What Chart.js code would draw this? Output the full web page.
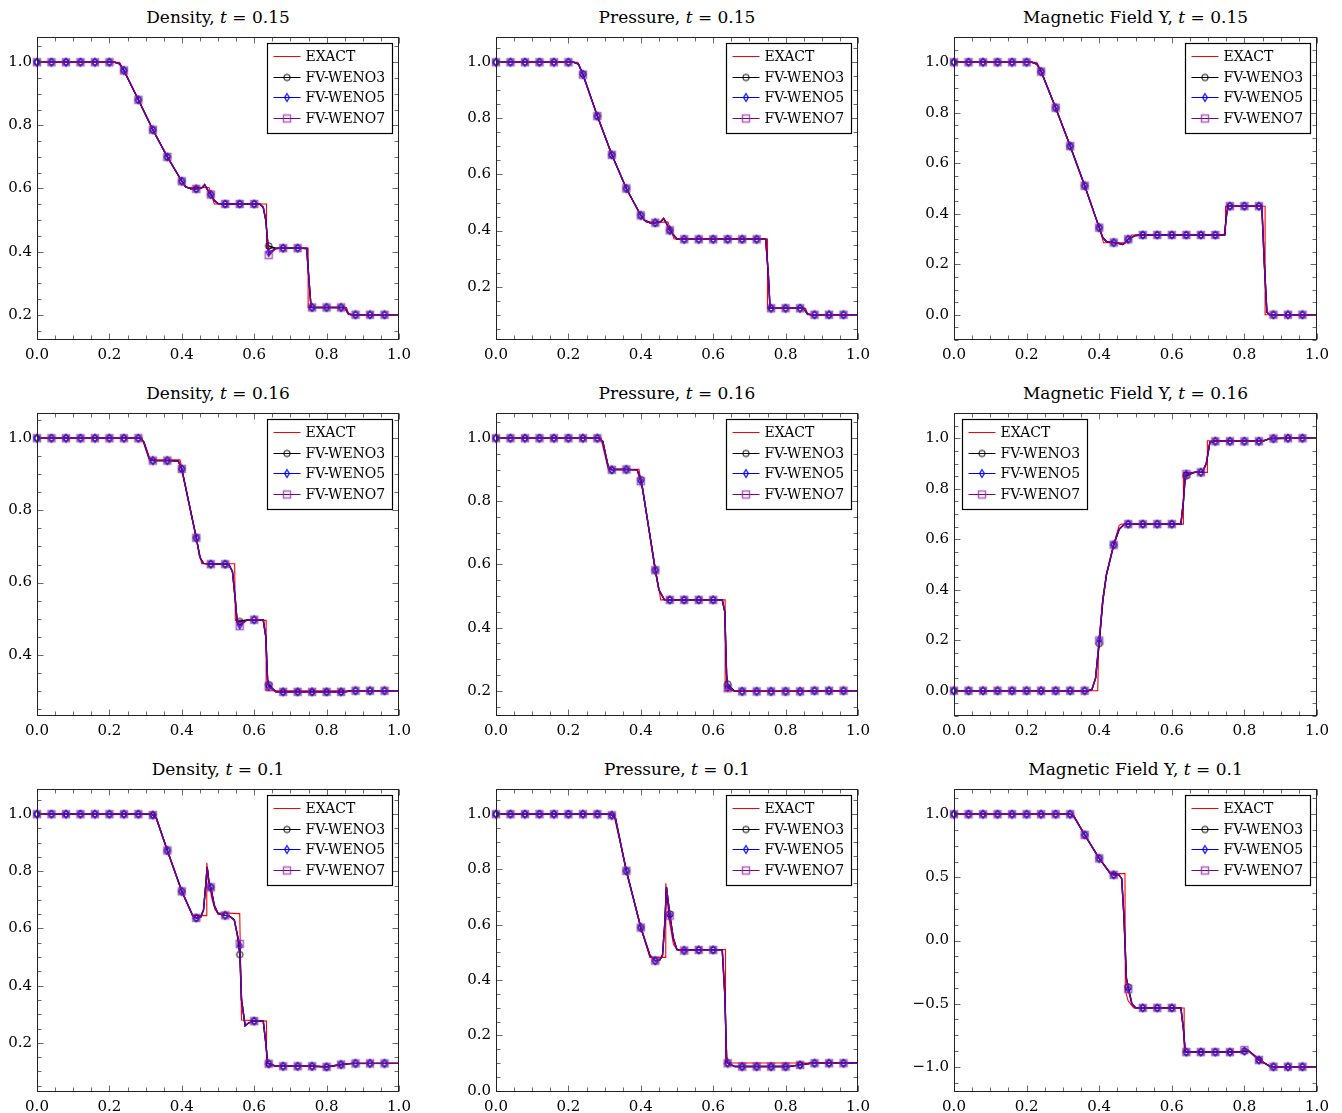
<!DOCTYPE html>
<html>
<head>
<meta charset="utf-8">
<script src="https://cdn.jsdelivr.net/npm/chart.js@4.4.1/dist/chart.umd.min.js"></script>
<style>
  body { margin: 0; background: #fff; width: 1342px; height: 1113px; position: relative; overflow: hidden; font-family: 'DejaVu Serif', serif; }
  .ptitle { position: absolute; text-align: center; font-size: 17px; line-height: 20px; height: 20px; white-space: nowrap; color: #000; }
  canvas { position: absolute; }
</style>
</head>
<body>
<script>
// ---- datos comunes ----
const MARK_X = [0.00, 0.04, 0.08, 0.12, 0.16, 0.20, 0.24, 0.28, 0.32, 0.36, 0.40, 0.44, 0.48,
                0.52, 0.56, 0.60, 0.64, 0.68, 0.72, 0.76, 0.80, 0.84, 0.88, 0.92, 0.96];
const X_TICKS = [0.0, 0.2, 0.4, 0.6, 0.8, 1.0];
const SERIES = ['EXACT', 'FV-WENO3', 'FV-WENO5', 'FV-WENO7'];

// ---- Density, t = 0.15 ----
const dens015YRange = [0.12, 1.08];
const dens015YTicks = [0.2, 0.4, 0.6, 0.8, 1.0];
const dens015Exact = [[0,1],[0.228,1],[0.24,0.975],[0.28,0.882],[0.32,0.787],[0.36,0.701],[0.40,0.624],[0.412,0.603],[0.475,0.603],[0.49,0.551],[0.634,0.551],[0.634,0.411],[0.749,0.411],[0.749,0.223],[0.855,0.223],[0.862,0.2],[1,0.2]];
const dens015Line = [[0.215,1],[0.228,0.995],[0.41,0.606],[0.425,0.599],[0.455,0.602],[0.463,0.612],[0.47,0.598],[0.49,0.562],[0.50,0.552],[0.615,0.551],[0.625,0.54],[0.632,0.50],[0.638,0.42],[0.66,0.41],[0.745,0.41],[0.752,0.30],[0.757,0.225],[0.85,0.223],[0.86,0.203],[0.87,0.2],[1,0.2]];
const dens015W3 = [1,1,1,1,1,1,0.974,0.881,0.786,0.700,0.623,0.599,0.581,0.551,0.551,0.551,0.418,0.411,0.411,0.223,0.223,0.223,0.200,0.200,0.200];
const dens015W5 = [1,1,1,1,1,1,0.974,0.881,0.786,0.700,0.623,0.599,0.581,0.551,0.551,0.551,0.397,0.411,0.411,0.223,0.223,0.223,0.200,0.200,0.200];
const dens015W7 = [1,1,1,1,1,1,0.974,0.881,0.786,0.700,0.623,0.599,0.581,0.551,0.551,0.551,0.389,0.411,0.411,0.223,0.223,0.223,0.200,0.200,0.200];

// ---- Pressure, t = 0.15 ----
const pres015YRange = [0.01, 1.09];
const pres015YTicks = [0.2, 0.4, 0.6, 0.8, 1.0];
const pres015Exact = [[0,1],[0.226,1],[0.24,0.957],[0.28,0.809],[0.32,0.671],[0.36,0.551],[0.40,0.455],[0.415,0.43],[0.475,0.43],[0.492,0.37],[0.75,0.37],[0.75,0.123],[0.855,0.123],[0.862,0.1],[1,0.1]];
const pres015Line = [[0.215,1],[0.228,0.993],[0.41,0.437],[0.425,0.428],[0.455,0.432],[0.463,0.443],[0.47,0.428],[0.49,0.385],[0.50,0.37],[0.745,0.369],[0.752,0.25],[0.757,0.125],[0.85,0.123],[0.86,0.103],[0.87,0.1],[1,0.1]];
const pres015W3 = [1,1,1,1,1,1,0.958,0.808,0.670,0.550,0.454,0.428,0.401,0.369,0.369,0.369,0.369,0.369,0.369,0.123,0.123,0.123,0.100,0.100,0.100];
const pres015W5 = [1,1,1,1,1,1,0.956,0.808,0.670,0.550,0.454,0.428,0.401,0.369,0.369,0.369,0.369,0.369,0.369,0.123,0.123,0.123,0.100,0.100,0.100];
const pres015W7 = [1,1,1,1,1,1,0.956,0.808,0.670,0.550,0.454,0.428,0.401,0.369,0.369,0.369,0.369,0.369,0.369,0.123,0.123,0.123,0.100,0.100,0.100];

// ---- Magnetic Field Y, t = 0.15 ----
const by015YRange = [-0.1, 1.1];
const by015YTicks = [0.0, 0.2, 0.4, 0.6, 0.8, 1.0];
const by015Exact = [[0,1],[0.228,1],[0.24,0.965],[0.28,0.821],[0.32,0.669],[0.36,0.512],[0.40,0.347],[0.412,0.285],[0.47,0.285],[0.49,0.316],[0.748,0.316],[0.748,0.43],[0.857,0.43],[0.857,0],[1,0]];
const by015Line = [[0.215,1],[0.228,0.993],[0.41,0.305],[0.42,0.29],[0.45,0.284],[0.465,0.278],[0.475,0.29],[0.50,0.314],[0.745,0.316],[0.752,0.41],[0.757,0.43],[0.848,0.43],[0.855,0.2],[0.862,0.01],[0.87,0],[1,0]];
const by015W3 = [1,1,1,1,1,1,0.963,0.820,0.668,0.511,0.345,0.286,0.299,0.316,0.316,0.316,0.316,0.316,0.316,0.430,0.430,0.430,0,0,0];
const by015W5 = [1,1,1,1,1,1,0.963,0.820,0.668,0.511,0.345,0.286,0.299,0.316,0.316,0.316,0.316,0.316,0.316,0.430,0.430,0.430,0,0,0];
const by015W7 = [1,1,1,1,1,1,0.963,0.820,0.668,0.511,0.345,0.286,0.299,0.316,0.316,0.316,0.316,0.316,0.316,0.430,0.430,0.430,0,0,0];

// ---- Density, t = 0.16 ----
const dens016YRange = [0.23, 1.07];
const dens016YTicks = [0.4, 0.6, 0.8, 1.0];
const dens016Exact = [[0,1],[0.29,1],[0.31,0.94],[0.395,0.94],[0.455,0.652],[0.546,0.652],[0.548,0.495],[0.633,0.495],[0.633,0.3],[1,0.3]];
const dens016Line = [[0.285,1],[0.295,0.99],[0.31,0.945],[0.33,0.938],[0.39,0.937],[0.405,0.89],[0.45,0.67],[0.46,0.653],[0.53,0.65],[0.54,0.63],[0.548,0.55],[0.553,0.49],[0.58,0.496],[0.625,0.496],[0.632,0.45],[0.637,0.33],[0.66,0.297],[0.85,0.297],[0.87,0.3],[1,0.3]];
const dens016W3 = [1,1,1,1,1,1,1,1,0.938,0.938,0.915,0.724,0.651,0.651,0.492,0.497,0.317,0.297,0.297,0.297,0.297,0.297,0.300,0.300,0.300];
const dens016W5 = [1,1,1,1,1,1,1,1,0.938,0.938,0.915,0.724,0.651,0.651,0.482,0.497,0.312,0.297,0.297,0.297,0.297,0.297,0.300,0.300,0.300];
const dens016W7 = [1,1,1,1,1,1,1,1,0.938,0.938,0.915,0.724,0.651,0.651,0.479,0.497,0.312,0.297,0.297,0.297,0.297,0.297,0.300,0.300,0.300];

// ---- Pressure, t = 0.16 ----
const pres016YRange = [0.12, 1.08];
const pres016YTicks = [0.2, 0.4, 0.6, 0.8, 1.0];
const pres016Exact = [[0,1],[0.29,1],[0.31,0.902],[0.395,0.902],[0.455,0.488],[0.633,0.488],[0.633,0.2],[1,0.2]];
const pres016Line = [[0.285,1],[0.295,0.99],[0.31,0.91],[0.33,0.901],[0.39,0.9],[0.405,0.84],[0.45,0.52],[0.465,0.489],[0.625,0.488],[0.632,0.45],[0.637,0.25],[0.66,0.198],[0.86,0.198],[0.875,0.2],[1,0.2]];
const pres016W3 = [1,1,1,1,1,1,1,1,0.900,0.901,0.869,0.582,0.488,0.488,0.488,0.488,0.221,0.198,0.198,0.198,0.198,0.198,0.200,0.200,0.200];
const pres016W5 = [1,1,1,1,1,1,1,1,0.900,0.901,0.864,0.582,0.488,0.488,0.488,0.488,0.211,0.198,0.198,0.198,0.198,0.198,0.200,0.200,0.200];
const pres016W7 = [1,1,1,1,1,1,1,1,0.900,0.901,0.864,0.582,0.488,0.488,0.488,0.488,0.208,0.198,0.198,0.198,0.198,0.198,0.200,0.200,0.200];

// ---- Magnetic Field Y, t = 0.16 ----
const by016YRange = [-0.1, 1.1];
const by016YTicks = [0.0, 0.2, 0.4, 0.6, 0.8, 1.0];
const by016Exact = [[0,0],[0.396,0],[0.398,0.15],[0.41,0.35],[0.42,0.46],[0.44,0.58],[0.455,0.655],[0.462,0.66],[0.632,0.66],[0.632,0.865],[0.698,0.865],[0.698,0.99],[0.845,0.99],[0.88,1],[1,1]];
const by016Line = [[0.37,0],[0.38,0.005],[0.39,0.05],[0.41,0.36],[0.42,0.46],[0.455,0.64],[0.47,0.66],[0.625,0.66],[0.632,0.75],[0.637,0.85],[0.665,0.866],[0.685,0.868],[0.695,0.9],[0.705,0.985],[0.85,0.988],[0.87,0.999],[1,1]];
const by016W3 = [0,0,0,0,0,0,0,0,0,0,0.187,0.578,0.660,0.660,0.660,0.660,0.851,0.865,0.988,0.988,0.988,0.988,0.999,1,1];
const by016W5 = [0,0,0,0,0,0,0,0,0,0,0.202,0.578,0.660,0.660,0.660,0.660,0.858,0.865,0.988,0.988,0.988,0.988,0.999,1,1];
const by016W7 = [0,0,0,0,0,0,0,0,0,0,0.199,0.578,0.660,0.660,0.660,0.660,0.858,0.865,0.988,0.988,0.988,0.988,0.999,1,1];

// ---- Density, t = 0.1 ----
const dens010YRange = [0.028, 1.088];
const dens010YTicks = [0.2, 0.4, 0.6, 0.8, 1.0];
const dens010Exact = [[0,1],[0.325,1],[0.36,0.875],[0.40,0.73],[0.43,0.645],[0.468,0.645],[0.469,0.83],[0.474,0.78],[0.482,0.71],[0.492,0.665],[0.50,0.655],[0.56,0.652],[0.565,0.28],[0.634,0.276],[0.634,0.12],[0.82,0.118],[0.86,0.127],[1,0.128]];
const dens010Line = [[0.315,1],[0.33,0.985],[0.43,0.645],[0.452,0.64],[0.46,0.665],[0.466,0.75],[0.47,0.815],[0.475,0.76],[0.49,0.68],[0.50,0.652],[0.53,0.645],[0.545,0.63],[0.553,0.58],[0.565,0.35],[0.575,0.26],[0.585,0.27],[0.625,0.276],[0.632,0.2],[0.637,0.13],[0.66,0.118],[0.80,0.116],[0.87,0.128],[1,0.128]];
const dens010W3 = [1,1,1,1,1,1,1,1,0.997,0.873,0.730,0.637,0.744,0.646,0.509,0.276,0.127,0.118,0.118,0.118,0.116,0.124,0.128,0.128,0.128];
const dens010W5 = [1,1,1,1,1,1,1,1,0.997,0.873,0.730,0.637,0.744,0.646,0.540,0.276,0.127,0.118,0.118,0.118,0.116,0.124,0.128,0.128,0.128];
const dens010W7 = [1,1,1,1,1,1,1,1,0.997,0.873,0.730,0.637,0.744,0.646,0.546,0.276,0.127,0.118,0.118,0.118,0.116,0.124,0.128,0.128,0.128];

// ---- Pressure, t = 0.1 ----
const pres010YRange = [-0.005, 1.091];
const pres010YTicks = [0.0, 0.2, 0.4, 0.6, 0.8, 1.0];
const pres010Exact = [[0,1],[0.325,1],[0.36,0.8],[0.40,0.59],[0.425,0.482],[0.468,0.482],[0.469,0.75],[0.478,0.62],[0.49,0.53],[0.50,0.51],[0.634,0.51],[0.634,0.1],[1,0.1]];
const pres010Line = [[0.315,1],[0.33,0.985],[0.425,0.49],[0.452,0.472],[0.46,0.49],[0.466,0.6],[0.471,0.735],[0.476,0.68],[0.49,0.55],[0.50,0.51],[0.625,0.509],[0.632,0.35],[0.637,0.12],[0.66,0.087],[0.81,0.087],[0.87,0.099],[1,0.1]];
const pres010W3 = [1,1,1,1,1,1,1,1,0.996,0.795,0.590,0.470,0.639,0.507,0.509,0.509,0.099,0.087,0.087,0.087,0.087,0.093,0.099,0.099,0.099];
const pres010W5 = [1,1,1,1,1,1,1,1,0.996,0.795,0.590,0.470,0.633,0.507,0.509,0.509,0.099,0.087,0.087,0.087,0.087,0.093,0.099,0.099,0.099];
const pres010W7 = [1,1,1,1,1,1,1,1,0.996,0.795,0.590,0.470,0.633,0.507,0.509,0.509,0.099,0.087,0.087,0.087,0.087,0.093,0.099,0.099,0.099];

// ---- Magnetic Field Y, t = 0.1 ----
const by010YRange = [-1.2, 1.2];
const by010YTicks = [-1.0, -0.5, 0.0, 0.5, 1.0];
const by010Exact = [[0,1],[0.325,1],[0.36,0.84],[0.40,0.65],[0.43,0.53],[0.471,0.53],[0.472,-0.4],[0.48,-0.48],[0.495,-0.535],[0.634,-0.535],[0.634,-0.88],[0.815,-0.88],[0.87,-1],[1,-1]];
const by010Line = [[0.315,1],[0.33,0.985],[0.43,0.535],[0.455,0.518],[0.462,0.49],[0.468,0.2],[0.475,-0.3],[0.49,-0.5],[0.50,-0.533],[0.625,-0.534],[0.632,-0.7],[0.637,-0.88],[0.79,-0.882],[0.81,-0.87],[0.83,-0.92],[0.87,-0.995],[0.88,-1],[1,-1]];
const by010W3 = [1,1,1,1,1,1,1,1,1,0.837,0.650,0.520,-0.368,-0.534,-0.534,-0.534,-0.884,-0.884,-0.884,-0.884,-0.876,-0.947,-1,-1,-1];
const by010W5 = [1,1,1,1,1,1,1,1,1,0.837,0.650,0.520,-0.383,-0.534,-0.534,-0.534,-0.884,-0.884,-0.884,-0.884,-0.876,-0.947,-1,-1,-1];
const by010W7 = [1,1,1,1,1,1,1,1,1,0.837,0.650,0.520,-0.383,-0.534,-0.534,-0.534,-0.884,-0.884,-0.884,-0.884,-0.868,-0.947,-1,-1,-1];

// ---- paneles ----
const COL_LEFT = [37, 496, 954];
const COL_WIDTH = [362, 362, 363];
const ROW_TOP = [37, 413, 789];
const ROW_HEIGHT = 303;

const panels = [
  { name: 'Density', t: '0.15', row: 0, col: 0, range: dens015YRange, ticks: dens015YTicks, exact: dens015Exact, line: dens015Line, w: [dens015W3, dens015W5, dens015W7], legend: 'right' },
  { name: 'Pressure', t: '0.15', row: 0, col: 1, range: pres015YRange, ticks: pres015YTicks, exact: pres015Exact, line: pres015Line, w: [pres015W3, pres015W5, pres015W7], legend: 'right' },
  { name: 'Magnetic Field Y', t: '0.15', row: 0, col: 2, range: by015YRange, ticks: by015YTicks, exact: by015Exact, line: by015Line, w: [by015W3, by015W5, by015W7], legend: 'right' },
  { name: 'Density', t: '0.16', row: 1, col: 0, range: dens016YRange, ticks: dens016YTicks, exact: dens016Exact, line: dens016Line, w: [dens016W3, dens016W5, dens016W7], legend: 'right' },
  { name: 'Pressure', t: '0.16', row: 1, col: 1, range: pres016YRange, ticks: pres016YTicks, exact: pres016Exact, line: pres016Line, w: [pres016W3, pres016W5, pres016W7], legend: 'right' },
  { name: 'Magnetic Field Y', t: '0.16', row: 1, col: 2, range: by016YRange, ticks: by016YTicks, exact: by016Exact, line: by016Line, w: [by016W3, by016W5, by016W7], legend: 'left' },
  { name: 'Density', t: '0.1', row: 2, col: 0, range: dens010YRange, ticks: dens010YTicks, exact: dens010Exact, line: dens010Line, w: [dens010W3, dens010W5, dens010W7], legend: 'right' },
  { name: 'Pressure', t: '0.1', row: 2, col: 1, range: pres010YRange, ticks: pres010YTicks, exact: pres010Exact, line: pres010Line, w: [pres010W3, pres010W5, pres010W7], legend: 'right' },
  { name: 'Magnetic Field Y', t: '0.1', row: 2, col: 2, range: by010YRange, ticks: by010YTicks, exact: by010Exact, line: by010Line, w: [by010W3, by010W5, by010W7], legend: 'right' }
];

// marcadores huecos estilo pgfplots
function crearMarca(tipo) {
  const c = document.createElement('canvas');
  c.width = 12; c.height = 12;
  const g = c.getContext('2d');
  const m = 6;
  if (tipo === 'circle') {
    g.strokeStyle = '#000'; g.lineWidth = 1;
    g.beginPath(); g.arc(m, m, 3.2, 0, Math.PI * 2); g.stroke();
  } else if (tipo === 'diamond') {
    g.strokeStyle = '#0000ff'; g.lineWidth = 1.2;
    g.beginPath(); g.moveTo(m, m - 3.8); g.lineTo(m + 2.4, m); g.lineTo(m, m + 3.8); g.lineTo(m - 2.4, m); g.closePath(); g.stroke();
  } else {
    g.strokeStyle = 'rgba(140,30,160,0.7)'; g.lineWidth = 1.5;
    g.strokeRect(m - 3.5, m - 3.5, 7, 7);
  }
  return c;
}
const MARKS = [crearMarca('circle'), crearMarca('diamond'), crearMarca('square')];
const COLORS = ['#ff0000', '#000000', '#0000ff', '#800080'];

function mezclar(line, marks) {
  return marks.map((y, i) => ({ x: MARK_X[i], y: y, m: true }))
    .concat(line.map(([x, y]) => ({ x: x, y: y })))
    .sort((a, b) => a.x - b.x);
}

const fmt = v => (v < -1e-9 ? '\u2212' : '') + Math.abs(v).toFixed(1);

// marco, marcas de eje hacia dentro y leyenda
const marcoPlugin = {
  id: 'marco',
  afterDraw(chart, args, opts) {
    const { ctx, chartArea: a, scales } = chart;
    const L = Math.round(a.left) + 0.5, R = Math.round(a.right) - 0.5;
    const T = Math.round(a.top) + 0.5, B = Math.round(a.bottom) - 0.5;
    ctx.save();
    ctx.strokeStyle = '#444'; ctx.lineWidth = 0.8;
    const seg = (x1, y1, x2, y2) => { ctx.beginPath(); ctx.moveTo(x1, y1); ctx.lineTo(x2, y2); ctx.stroke(); };
    for (let k = 0; k <= 20; k++) {
      const v = k * 0.05;
      const len = k % 4 === 0 ? 6 : 4;
      const px = Math.round(scales.x.getPixelForValue(v)) + 0.5;
      seg(px, B, px, B - len); seg(px, T, px, T + len);
    }
    const yt = opts.yTicks, yr = opts.yRange;
    const step = (yt[1] - yt[0]) / 4;
    const n0 = Math.floor((yt[0] - yr[0]) / step + 1e-6);
    for (let k = -n0; ; k++) {
      const v = yt[0] + k * step;
      if (v > yr[1] + 1e-9) break;
      const len = ((k % 4) + 4) % 4 === 0 ? 6 : 4;
      const py = Math.round(scales.y.getPixelForValue(v)) + 0.5;
      seg(L, py, L + len, py); seg(R, py, R - len, py);
    }
    ctx.strokeStyle = '#222'; ctx.lineWidth = 1;
    ctx.strokeRect(L, T, R - L, B - T);

    // leyenda
    const bw = 125, bh = 90;
    const bx = Math.round(opts.legend === 'left' ? a.left + 8 : a.right - 7 - bw) + 0.5;
    const by = Math.round(a.top + 6) + 0.5;
    ctx.fillStyle = '#fff'; ctx.fillRect(bx, by, bw, bh);
    ctx.strokeStyle = '#000'; ctx.lineWidth = 1.2; ctx.strokeRect(bx, by, bw, bh);
    ctx.font = '14px "DejaVu Serif"'; ctx.textBaseline = 'middle'; ctx.textAlign = 'left';
    chart.data.datasets.forEach((ds, i) => {
      const cy = Math.round(by + 12.5 + i * 20.7);
      ctx.strokeStyle = ds.borderColor; ctx.lineWidth = 1;
      seg(bx + 6, cy + 0.5, bx + 33, cy + 0.5);
      if (i > 0) ctx.drawImage(MARKS[i - 1], Math.round(bx + 19.5) - 6, cy - 5.5);
      ctx.fillStyle = '#000';
      ctx.fillText(ds.label, bx + 38, cy + 1.5);
    });
    ctx.restore();
  }
};

const PAD_L = 45, PAD_T = 24, PAD_R = 20, PAD_B = 26;
const TICK_FONT = { family: 'DejaVu Serif', size: 15 };

panels.forEach((p) => {
  const left = COL_LEFT[p.col], top = ROW_TOP[p.row], w = COL_WIDTH[p.col];

  const title = document.createElement('div');
  title.className = 'ptitle';
  title.style.left = left + 'px';
  title.style.width = w + 'px';
  title.style.top = (top - 30) + 'px';
  title.innerHTML = p.name + ', <i>t</i> = ' + p.t;
  document.body.appendChild(title);

  const cv = document.createElement('canvas');
  cv.width = w + PAD_L + PAD_R;
  cv.height = ROW_HEIGHT + PAD_T + PAD_B;
  cv.style.left = (left - PAD_L) + 'px';
  cv.style.top = (top - PAD_T) + 'px';
  document.body.appendChild(cv);

  const datasets = [{
    label: SERIES[0],
    data: p.exact.map(([x, y]) => ({ x: x, y: y })),
    borderColor: COLORS[0], borderWidth: 1.1, pointRadius: 0, order: 4, clip: false
  }];
  p.w.forEach((marks, k) => {
    datasets.push({
      label: SERIES[k + 1],
      data: mezclar(p.line, marks),
      borderColor: COLORS[k + 1], borderWidth: 1.4,
      pointStyle: MARKS[k],
      pointRadius: c => (c.raw && c.raw.m ? 3 : 0),
      order: 3 - k, clip: false
    });
  });

  new Chart(cv, {
    type: 'line',
    data: { datasets: datasets },
    options: {
      responsive: false, animation: false, events: [], devicePixelRatio: 1,
      layout: { padding: { left: 0, top: PAD_T, right: PAD_R, bottom: 0 } },
      elements: { line: { tension: 0 } },
      plugins: {
        legend: { display: false }, tooltip: { enabled: false }, title: { display: false },
        marco: { legend: p.legend, yTicks: p.ticks, yRange: p.range }
      },
      scales: {
        x: {
          type: 'linear', min: 0, max: 1,
          grid: { display: false, drawTicks: false }, border: { display: false },
          afterBuildTicks: s => { s.ticks = X_TICKS.map(v => ({ value: v })); },
          afterFit: s => { s.height = PAD_B; },
          ticks: { font: TICK_FONT, color: '#000', padding: 6, maxRotation: 0, autoSkip: false, callback: fmt }
        },
        y: {
          type: 'linear', min: p.range[0], max: p.range[1],
          grid: { display: false, drawTicks: false }, border: { display: false },
          afterBuildTicks: s => { s.ticks = p.ticks.map(v => ({ value: v })); },
          afterFit: s => { s.width = PAD_L; },
          ticks: { font: TICK_FONT, color: '#000', padding: 5, autoSkip: false, callback: fmt }
        }
      }
    },
    plugins: [marcoPlugin]
  });
});
</script>
</body>
</html>
